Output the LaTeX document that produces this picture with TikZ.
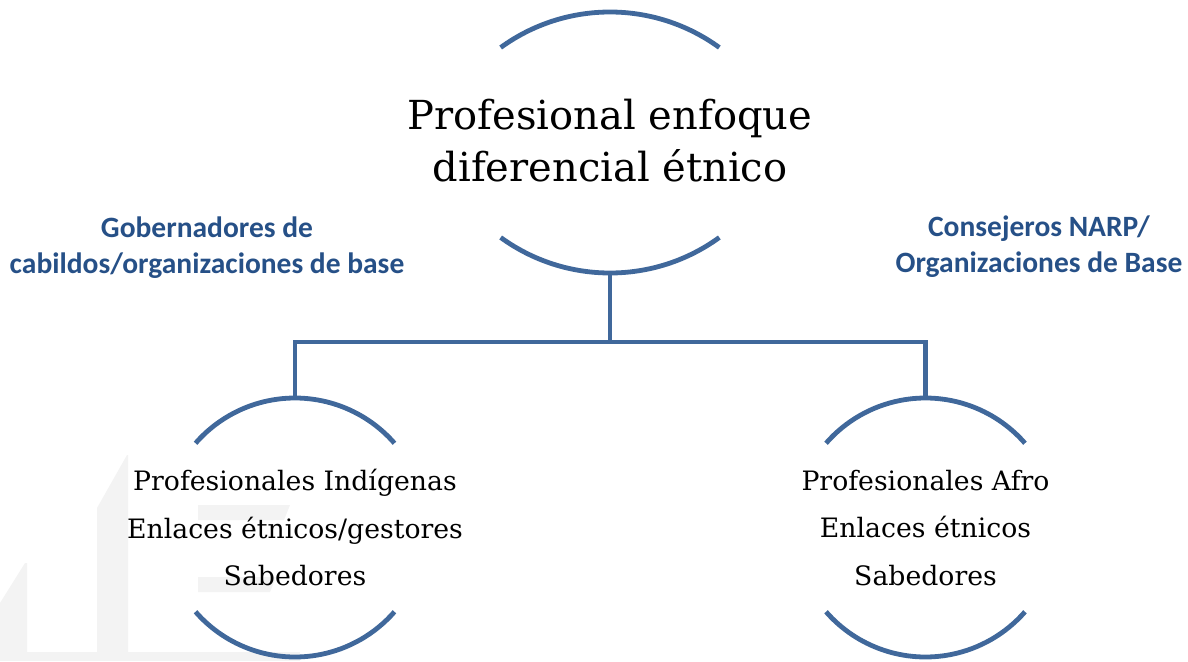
\documentclass[tikz,border=0pt]{standalone}
\usepackage{fontspec}
\setmainfont{DejaVu Serif}
\newfontfamily\labelfont{Carlito}
\usepackage{tikz}
\usetikzlibrary{calc}
\definecolor{arcblue}{RGB}{64,104,155}
\definecolor{labelblue}{RGB}{38,80,135}
\definecolor{markgray}{RGB}{243,243,243}
\begin{document}
\begin{tikzpicture}[x=1pt,y=1pt,
  rim/.style={draw=arcblue,line width=4.8pt},
  link/.style={draw=arcblue,line width=4.8pt,line join=miter},
  headtext/.style={align=center,inner sep=0pt,font=\fontsize{40}{52}\selectfont},
  subtext/.style={align=center,inner sep=0pt,font=\fontsize{26.7}{47.5}\selectfont},
  sidetext/.style={align=center,inner sep=0pt,text=labelblue,font=\labelfont\bfseries\fontsize{29.5}{36}\selectfont}]
\useasboundingbox (0,0) rectangle (1188,-661);
\fill [markgray] (0,-652) rectangle (300,-661);
\fill [markgray] (0,-603) -- (25,-563) -- (27,-563) -- (27,-652) -- (0,-652) -- cycle;
\fill [markgray] (97,-652) -- (97,-508) -- (127,-455) -- (128,-455) -- (128,-652) -- cycle;
\fill [markgray] (198,-505) -- (290,-505) -- (284,-520) -- (198,-520) -- cycle;
\fill [markgray] (198,-577) -- (276,-577) -- (270,-592) -- (198,-592) -- cycle;

\coordinate (headtop) at (610,-198);
\coordinate (headbot) at (610,-87);
\coordinate (hub) at (610,-273);
\coordinate (bar) at (610,-342);
\coordinate (indtop) at (295,-398);
\coordinate (afrotop) at (925.5,-398);

\draw [rim] (headtop) ++(54:186) arc [radius=186, start angle=54, end angle=126];
\draw [rim] (headbot) ++(234:186) arc [radius=186, start angle=234, end angle=306];
\foreach \cx in {295,925.5} {
  \draw [rim] (\cx,-530) ++(41.1:132) arc [radius=132, start angle=41.1, end angle=138.9];
  \draw [rim] (\cx,-525) ++(221.1:132) arc [radius=132, start angle=221.1, end angle=318.9];
}

\draw [link] (hub) -- (bar);
\draw [link] (indtop) |- (bar) -| (afrotop);

\node [headtext] (head) at (610,-141) {Profesional enfoque\\diferencial étnico};
\node [subtext] (ind) at (295,-528) {Profesionales Indígenas\\Enlaces étnicos/gestores\\Sabedores};
\node [subtext] (afro) at (925.5,-528) {Profesionales Afro\\Enlaces étnicos\\Sabedores};
\node [sidetext] (cabildos) at (207,-247.5) {Gobernadores de\\cabildos/organizaciones de base};
\node [sidetext] (narp) at (1039,-246.5) {Consejeros NARP/\\Organizaciones de Base};
\end{tikzpicture}
\end{document}
